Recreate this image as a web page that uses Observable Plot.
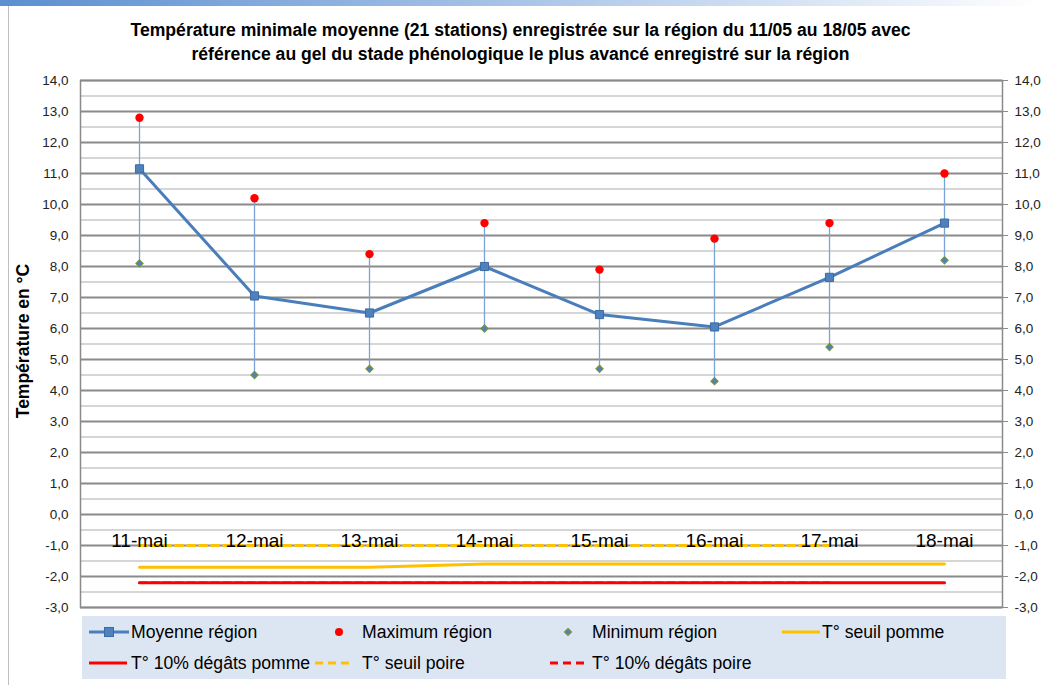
<!DOCTYPE html>
<html><head><meta charset="utf-8">
<script src="https://cdn.jsdelivr.net/npm/d3@7"></script>
<script src="https://cdn.jsdelivr.net/npm/@observablehq/plot@0.6"></script>
<style>
body{margin:0;background:#fff;}
#wrap{position:relative;width:1041px;height:685px;overflow:hidden;font-family:"Liberation Sans Narrow","Liberation Sans",sans-serif;color:#000;}
#topbar{position:absolute;left:0;top:0;width:1041px;height:6px;background:linear-gradient(to right,#5b8fd0,#a9c4e8 50%,#ffffff);}
#leftline{position:absolute;left:8px;top:6px;width:1px;height:679px;background:#bfbfbf;}
#title{position:absolute;left:0;top:18px;width:1041px;text-align:center;font-weight:bold;font-size:17.6px;line-height:24px;}
#chart{position:absolute;left:0;top:0;}
#ytitle{position:absolute;left:23px;top:341px;transform:translate(-50%,-50%) rotate(-90deg);font-weight:bold;font-size:17.5px;white-space:nowrap;}
#legend{position:absolute;left:82px;top:616px;width:924px;height:63px;background:#dce6f2;}
.sw{position:absolute;}
.lt{position:absolute;font-size:17.6px;line-height:22px;white-space:nowrap;}
</style></head><body>
<div id="wrap">
 <div id="topbar"></div><div id="leftline"></div>
 <div id="chart"></div>
 <div id="title">Température minimale moyenne (21 stations) enregistrée sur la région du 11/05 au 18/05 avec<br>référence au gel du stade phénologique le plus avancé enregistré sur la région</div>
 <div id="ytitle">Température en °C</div>
 <div id="legend"></div>
</div>
<script>
const days = ["11-mai","12-mai","13-mai","14-mai","15-mai","16-mai","17-mai","18-mai"];
const moyenne = [11.15, 7.05, 6.5, 8.0, 6.45, 6.05, 7.65, 9.4];
const maximum = [12.8, 10.2, 8.4, 9.4, 7.9, 8.9, 9.4, 11.0];
const minimum = [8.1, 4.5, 4.7, 6.0, 4.7, 4.3, 5.4, 8.2];
const seuilPomme = [-1.7, -1.7, -1.7, -1.6, -1.6, -1.6, -1.6, -1.6];
const degatsPomme = [-2.2, -2.2, -2.2, -2.2, -2.2, -2.2, -2.2, -2.2];
const seuilPoire = [-1.0, -1.0, -1.0, -1.0, -1.0, -1.0, -1.0, null];
const degatsPoire = [-2.2, -2.2, -2.2, -2.2, -2.2, -2.2, -2.2, null];
const yTicks = d3.range(-3, 14.5, 1);
const yMinor = d3.range(-2.5, 14, 1);

const data = days.map((d, i) => ({
  day: d, moy: moyenne[i], max: maximum[i], min: minimum[i],
  sPomme: seuilPomme[i], dPomme: degatsPomme[i], sPoire: seuilPoire[i], dPoire: degatsPoire[i]
}));
const fmt = d => d.toFixed(1).replace(".", ",");
const blue = "#4a7ebb";

const chart = Plot.plot({
  width: 1041, height: 685,
  marginTop: 80, marginBottom: 78, marginLeft: 80, marginRight: 39,
  style: {fontFamily: '"Liberation Sans Narrow","Liberation Sans",sans-serif', background: "transparent"},
  x: {type: "point", domain: days, padding: 0.5, axis: null},
  y: {domain: [-3, 14], axis: null},
  marks: [
    Plot.ruleY(yMinor, {stroke: "#c8c8c8", strokeWidth: 1.5}),
    Plot.ruleY(yTicks, {stroke: "#8a8a8a", strokeWidth: 2}),
    Plot.frame({stroke: "#8a8a8a", strokeWidth: 1.5}),
    Plot.axisY(yTicks, {anchor: "left", tickSize: 0, tickPadding: 12, tickFormat: fmt, fontSize: 13.5, color: "#222"}),
    Plot.axisY(yTicks, {anchor: "right", tickSize: 5, tickPadding: 7, tickFormat: fmt, fontSize: 13.5, color: "#222", stroke: "#8a8a8a"}),
    Plot.ruleX(data, {x: "day", y1: "min", y2: "max", stroke: "#7aa3d6", strokeWidth: 1.3}),
    Plot.line(data, {x: "day", y: "dPoire", stroke: "#ff0000", strokeWidth: 2.6, strokeDasharray: "7,5"}),
    Plot.line(data, {x: "day", y: "dPomme", stroke: "#ff0000", strokeWidth: 3}),
    Plot.line(data, {x: "day", y: "sPomme", stroke: "#ffc000", strokeWidth: 3}),
    Plot.line(data, {x: "day", y: "sPoire", stroke: "#ffc000", strokeWidth: 3, strokeDasharray: "7,5"}),
    Plot.text(data, {x: "day", y: () => 0, text: "day", dy: 26, fontSize: 19, fill: "#000"}),
    Plot.line(data, {x: "day", y: "moy", stroke: blue, strokeWidth: 3}),
    Plot.dot(data, {x: "day", y: "moy", symbol: "square", r: 4.6, fill: "#4f81bd", stroke: "#3b6aa3", strokeWidth: 1}),
    Plot.dot(data, {x: "day", y: "max", r: 4.2, fill: "#ff0000"}),
    Plot.dot(data, {x: "day", y: "min", symbol: "diamond2", r: 3.2, fill: "#4f81bd", stroke: "#77933c", strokeWidth: 1.2})
  ]
});
document.getElementById("chart").appendChild(chart);

// Legend (positions relative to legend box)
const items = [
  {label: "Moyenne région", sx: 7, tx: 49, cy: 16, type: "linesq"},
  {label: "Maximum région", sx: 257, tx: 280, cy: 16, type: "dot"},
  {label: "Minimum région", sx: 486, tx: 510, cy: 16, type: "diamond"},
  {label: "T° seuil pomme", sx: 700, tx: 740, cy: 16, type: "line", color: "#ffc000"},
  {label: "T° 10% dégâts pomme", sx: 7, tx: 49, cy: 47, type: "line", color: "#ff0000"},
  {label: "T° seuil poire", sx: 233, tx: 280, cy: 47, type: "dash", color: "#ffc000"},
  {label: "T° 10% dégâts poire", sx: 468, tx: 510, cy: 47, type: "dash", color: "#ff0000"}
];
const leg = document.getElementById("legend");
for (const it of items) {
  let sw = "", left = it.sx, w = 40;
  if (it.type === "linesq") sw = `<line x1="0" x2="40" y1="10" y2="10" stroke="#4a7ebb" stroke-width="3"/><rect x="15.5" y="5.5" width="9" height="9" fill="#4f81bd" stroke="#3b6aa3"/>`;
  else if (it.type === "dot") { left = it.sx - 10; w = 20; sw = `<circle cx="10" cy="10" r="4" fill="#ff0000"/>`; }
  else if (it.type === "diamond") { left = it.sx - 10; w = 20; sw = `<path d="M10,6.5L13.5,10L10,13.5L6.5,10Z" fill="#4f81bd" stroke="#77933c" stroke-width="1.2"/>`; }
  else if (it.type === "line") sw = `<line x1="0" x2="38" y1="10" y2="10" stroke="${it.color}" stroke-width="3"/>`;
  else if (it.type === "dash") sw = `<line x1="0" x2="38" y1="10" y2="10" stroke="${it.color}" stroke-width="3" stroke-dasharray="8,5"/>`;
  const s = document.createElement("div");
  s.className = "sw";
  s.style.left = left + "px"; s.style.top = (it.cy - 10) + "px";
  s.innerHTML = `<svg width="${w}" height="20">${sw}</svg>`;
  leg.appendChild(s);
  const t = document.createElement("div");
  t.className = "lt";
  t.style.left = it.tx + "px"; t.style.top = (it.cy - 11) + "px";
  t.textContent = it.label;
  leg.appendChild(t);
}
</script>
</body></html>
